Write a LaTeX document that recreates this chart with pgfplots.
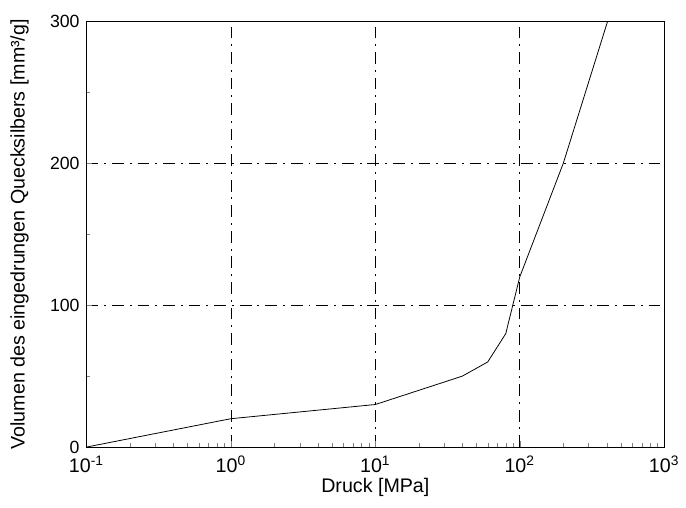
\documentclass[border=0pt]{standalone}
\usepackage{fontspec}
\setmainfont{Liberation Sans}
\usepackage{pgfplots}
\pgfplotsset{compat=1.18}

\begin{document}
\begin{tikzpicture}
\begin{axis}[
    scale only axis,
    width=294pt, height=216.5pt,
    xmode=log,
    xmin=0.1, xmax=1000,
    ymin=0, ymax=300,
    xtick={0.1,1,10,100,1000},
    xticklabels={10\textsuperscript{-1},10\textsuperscript{0},10\textsuperscript{1},10\textsuperscript{2},10\textsuperscript{3}},
    ytick={0,100,200,300},
    minor ytick={50,150,250},
    tick pos=left,
    tick align=inside,
    major tick length=3pt,
    minor tick length=2pt,
    grid=major,
    major grid style={black, thin, dash pattern=on 6pt off 3pt on 1pt off 3pt},
    axis line style={black, thin},
    xlabel={Druck [MPa]},
    ylabel={Volumen des eingedrungen Quecksilbers [mm³/g]},
    xlabel style={yshift=4pt},
    ylabel style={yshift=4pt},
    xticklabel style={font=\fontsize{10}{12}\selectfont, yshift=-1pt},
    yticklabel style={font=\fontsize{9}{11}\selectfont},
    label style={font=\fontsize{10}{12}\selectfont},
    /pgf/number format/assume math mode=true,
]
\addplot[black, thin] coordinates {
    (0.1,0) (1,20) (10,30) (40,50) (60,60) (80,80) (100,120) (200,200) (405,300)
};
\end{axis}
\path (current axis.south west) ++(-44pt,-31pt);
\path (current axis.north east) ++(7pt,11pt);
\end{tikzpicture}
\end{document}
